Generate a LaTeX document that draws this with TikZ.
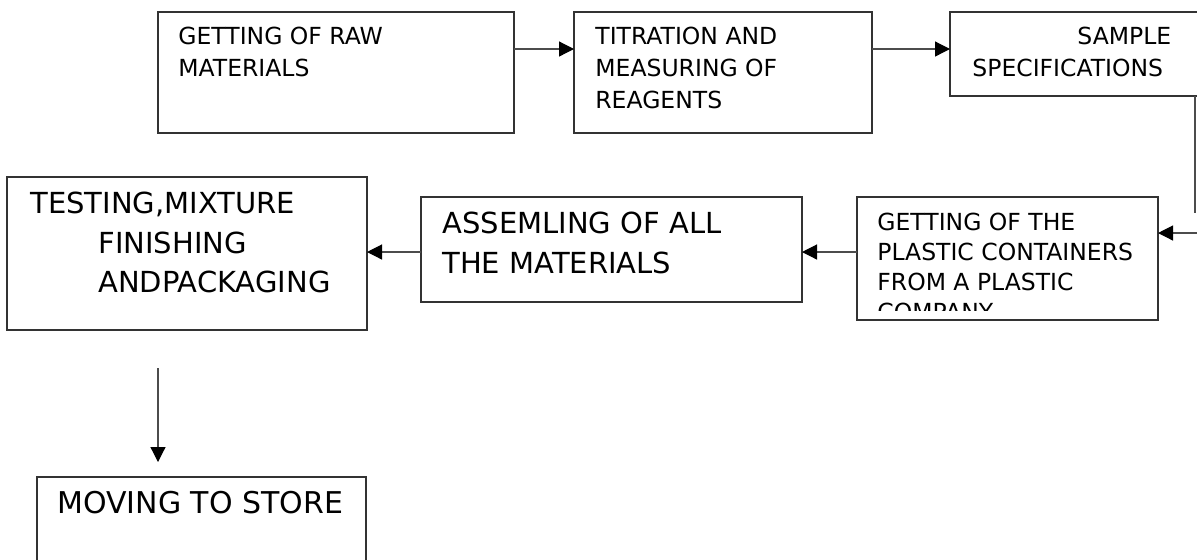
\documentclass[tikz,border=0pt]{standalone}
\usepackage{fontspec}
\setmainfont{DejaVu Sans}
\usepackage{tikz}
\usetikzlibrary{arrows.meta}

\begin{document}
\begin{tikzpicture}[x=0.5pt, y=-0.5pt,
    box/.style={draw=black!80, line width=0.6pt, rectangle, inner sep=0pt, outer sep=0pt, anchor=north west},
    txt/.style={inner sep=0pt, anchor=north west, align=left},
    small/.style={font=\fontsize{11.75}{16}\selectfont},
    large/.style={font=\fontsize{14.5}{19.75}\selectfont},
    arrow/.style={draw=black!70, line width=0.6pt, -{Triangle[length=7.5pt, width=7.5pt, color=black]}},
    line/.style={draw=black!70, line width=0.6pt}]
        \useasboundingbox (0,0) rectangle (1197,559);

        % Boxes
        \node[box, minimum width=178pt, minimum height=60.5pt] (raw) at (158,12) {};
        \node[box, minimum width=149pt, minimum height=60.5pt] (titration) at (574,12) {};
        \node[box, minimum width=130pt, minimum height=42pt] (sample) at (950,12) {};
        \node[box, minimum width=150.5pt, minimum height=61.5pt] (plastic) at (857,197) {};
        \node[box, minimum width=190.5pt, minimum height=52.5pt] (assembling) at (421,197) {};
        \node[box, minimum width=180pt, minimum height=76.5pt] (testing) at (7,177) {};
        \node[box, minimum width=164.5pt, minimum height=50pt] (store) at (37,477) {};

        % Texts
        \node[txt, small] (rawtext) at (178,27) {GETTING OF RAW\\MATERIALS};
        \node[txt, small] (titrationtext) at (595,27) {TITRATION AND\\MEASURING OF\\REAGENTS};
        \node[txt, small] (sampletext) at (972,27) {\hspace*{52.5pt}SAMPLE\\SPECIFICATIONS};
        \begin{scope}
            \clip (857,197) rectangle (1158,310);
            \node[txt, font=\fontsize{11.75}{15}\selectfont] (plastictext) at (877,213) {GETTING OF THE\\PLASTIC CONTAINERS\\FROM A PLASTIC\\COMPANY};
        \end{scope}
        \node[txt, large] (assemblingtext) at (442,212) {ASSEMLING OF ALL\\THE MATERIALS};
        \node[txt, large] (testingtext) at (30,192) {TESTING,MIXTURE\\\hspace*{34pt}FINISHING\\\hspace*{34pt}ANDPACKAGING};
        \node[txt, font=\fontsize{15}{20}\selectfont] (storetext) at (57,491) {MOVING TO STORE};

        % Edges
        \coordinate (turn) at (1195,213);
        \coordinate (feed) at (1197,233);
        \coordinate (drop) at (158,368);
        \draw[arrow] ([yshift=-18.5pt]raw.north east) -- ([yshift=-18.5pt]titration.north west);
        \draw[arrow] ([yshift=-18.5pt]titration.north east) -- ([yshift=-18.5pt]sample.north west);
        \draw[line] (sample.south -| turn) -- (turn);
        \draw[arrow] (feed) -- (feed -| plastic.east);
        \draw[arrow] ([yshift=-27.5pt]plastic.north west) -- ([yshift=-27.5pt]assembling.north east);
        \draw[arrow] ([yshift=-27.5pt]assembling.north west) -- ([yshift=-27.5pt]assembling.north west -| testing.east);
        \draw[arrow, shorten >=7.5pt] (drop) -- (drop |- store.north);
    \end{tikzpicture}
\end{document}
